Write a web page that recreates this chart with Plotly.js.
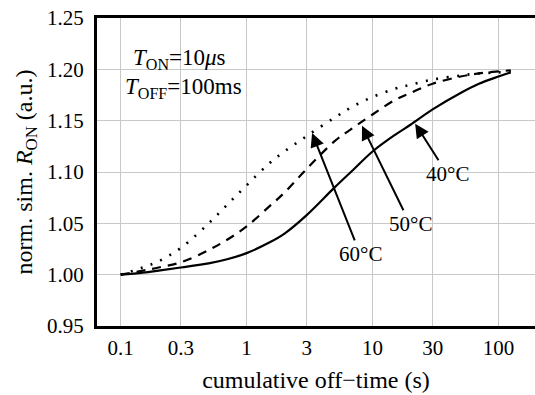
<!DOCTYPE html>
<html>
<head>
<meta charset="utf-8">
<script src="https://cdn.plot.ly/plotly-3.0.1.min.js"></script>
<style>html,body{margin:0;padding:0;background:#fff;}#chart{width:535px;height:395px;}</style>
</head>
<body>
<div id="chart"></div>
<script>
// Data
const offTime = [0.1, 0.15, 0.2, 0.3, 0.5, 0.7, 1, 1.5, 2, 3, 5, 7, 10, 15, 20, 30, 50, 70, 100, 125];
const r40 = [1.000, 1.002, 1.004, 1.007, 1.011, 1.015, 1.021, 1.031, 1.040, 1.058, 1.085, 1.102, 1.120, 1.136, 1.146, 1.161, 1.177, 1.186, 1.193, 1.197];
const r50 = [1.000, 1.004, 1.007, 1.012, 1.024, 1.034, 1.047, 1.066, 1.080, 1.103, 1.130, 1.143, 1.156, 1.170, 1.177, 1.186, 1.193, 1.196, 1.198, 1.199];
const r60 = [1.000, 1.007, 1.013, 1.026, 1.050, 1.068, 1.087, 1.108, 1.120, 1.135, 1.153, 1.164, 1.173, 1.181, 1.185, 1.190, 1.194, 1.196, 1.197, 1.198];

const xTickVals = [0.1, 0.3, 1, 3, 10, 30, 100];
const xTickText = ['0.1', '0.3', '1', '3', '10', '30', '100'];
const yTickVals = [0.95, 1.00, 1.05, 1.10, 1.15, 1.20, 1.25];
const yTickText = ['0.95', '1.00', '1.05', '1.10', '1.15', '1.20', '1.25'];

const labelText = ['40°C', '50°C', '60°C'];
const labelTipX = [21.8, 8.25, 3.31];
const labelTipY = [1.147, 1.145, 1.138];

const FONT = 'Liberation Serif';

const traces = [
  {x: offTime, y: r40, mode: 'lines', line: {color: '#000', width: 2.2, shape: 'spline'}, name: '40°C'},
  {x: offTime, y: r50, mode: 'lines', line: {color: '#000', width: 2.2, dash: '9px,7px', shape: 'spline'}, name: '50°C'},
  {x: offTime, y: r60, mode: 'lines', line: {color: '#000', width: 2.6, dash: '2px,8.5px', shape: 'spline'}, name: '60°C'}
];

const labelOffsets = [[32, 50], [48, 98], [48, 121]];
const annotations = labelText.map((t, i) => ({
  x: Math.log10(labelTipX[i]), y: labelTipY[i], xref: 'x', yref: 'y',
  text: t, showarrow: true, ax: labelOffsets[i][0], ay: labelOffsets[i][1],
  arrowhead: 2, arrowsize: 1.4, arrowwidth: 2, arrowcolor: '#000',
  font: {family: FONT, size: 21, color: '#000'}
}));
annotations.push({
  xref: 'paper', yref: 'paper', x: 0.188, y: 0.868, xanchor: 'center', yanchor: 'middle',
  text: '<i>T</i><sub>ON</sub>=10<i>μ</i>s', showarrow: false,
  font: {family: FONT, size: 23, color: '#000'}
});
annotations.push({
  xref: 'paper', yref: 'paper', x: 0.198, y: 0.772, xanchor: 'center', yanchor: 'middle',
  text: '<i>T</i><sub>OFF</sub>=100ms', showarrow: false,
  font: {family: FONT, size: 23, color: '#000'}
});

const layout = {
  width: 535, height: 395,
  margin: {l: 97, r: 0, t: 18, b: 69},
  paper_bgcolor: '#fff', plot_bgcolor: '#fff',
  showlegend: false,
  font: {family: FONT, size: 21, color: '#000'},
  xaxis: {
    type: 'log', range: [-1.188, 2.29],
    tickvals: xTickVals, ticktext: xTickText,
    tickfont: {family: FONT, size: 21, color: '#000'},
    showgrid: true, gridcolor: '#c8c8c8', gridwidth: 1,
    showline: true, linecolor: '#000', linewidth: 3, mirror: true,
    ticks: '', zeroline: false, ticklabelstandoff: 1,
    title: {text: 'cumulative off−time (s)', font: {family: FONT, size: 24, color: '#000'}, standoff: 12},
    automargin: false
  },
  yaxis: {
    range: [0.95, 1.25],
    tickvals: yTickVals, ticktext: yTickText,
    tickfont: {family: FONT, size: 21, color: '#000'},
    showgrid: true, gridcolor: '#c8c8c8', gridwidth: 1,
    showline: true, linecolor: '#000', linewidth: 3,
    ticks: '', zeroline: false, ticklabelstandoff: 6,
    title: {text: 'norm. sim. <i>R</i><sub>ON</sub> (a.u.)', font: {family: FONT, size: 24, color: '#000'}, standoff: 8},
    automargin: false
  },
  annotations: annotations
};

Plotly.newPlot('chart', traces, layout, {displayModeBar: false, staticPlot: true});
</script>
</body>
</html>
